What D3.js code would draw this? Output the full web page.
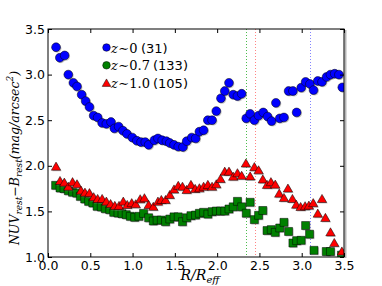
<!DOCTYPE html>
<html>
<head>
<meta charset="utf-8">
<script src="https://cdn.jsdelivr.net/npm/d3@7"></script>
<style>
  body { margin: 0; background: #fff; }
  svg { display: block; }
  .tick text { font-family: "DejaVu Sans", sans-serif; font-size: 12.5px; fill: #000; }
  .tick line { stroke: #000; }
</style>
</head>
<body>
<div id="chart"></div>
<script>
// z~0 sample (blue circles)
const blueR = [0.095,0.14,0.197,0.24,0.30,0.343,0.398,0.445,0.49,0.54,0.587,0.64,0.69,0.745,0.785,0.835,0.886,0.934,0.997,1.05,1.10,1.15,1.19,1.257,1.30,1.35,1.40,1.44,1.49,1.54,1.596,1.64,1.70,1.746,1.79,1.84,1.89,1.94,1.99,2.045,2.09,2.14,2.19,2.24,2.29,2.344,2.39,2.44,2.49,2.545,2.597,2.644,2.695,2.74,2.79,2.845,2.896,2.94,2.994,3.046,3.097,3.14,3.19,3.24,3.294,3.34,3.39,3.44,3.48];
const blueV = [3.30,3.185,3.21,3.00,2.91,2.87,2.78,2.71,2.645,2.55,2.53,2.47,2.46,2.48,2.41,2.43,2.385,2.35,2.31,2.275,2.26,2.26,2.23,2.28,2.30,2.28,2.27,2.25,2.23,2.21,2.206,2.27,2.31,2.30,2.374,2.39,2.50,2.50,2.60,2.74,2.82,2.91,2.78,2.765,2.79,2.52,2.57,2.50,2.55,2.585,2.54,2.49,2.69,2.52,2.53,2.82,2.82,2.585,2.857,2.92,2.897,2.83,2.93,2.92,2.974,3.00,3.01,3.00,2.86];

// z~0.7 sample (green squares)
const greenR = [0.09,0.142,0.189,0.24,0.29,0.34,0.382,0.434,0.48,0.53,0.58,0.63,0.677,0.73,0.777,0.827,0.875,0.925,0.973,1.025,1.075,1.13,1.19,1.245,1.29,1.34,1.39,1.44,1.49,1.54,1.59,1.64,1.69,1.745,1.79,1.84,1.89,1.94,1.99,2.04,2.09,2.14,2.19,2.24,2.29,2.344,2.39,2.44,2.49,2.54,2.59,2.64,2.687,2.74,2.79,2.845,2.896,2.94,2.994,3.046,3.093,3.145,3.29,3.34,3.47];
const greenV = [1.786,1.757,1.75,1.727,1.71,1.70,1.665,1.636,1.61,1.592,1.556,1.548,1.53,1.519,1.49,1.482,1.475,1.464,1.446,1.435,1.446,1.478,1.43,1.395,1.405,1.405,1.387,1.416,1.44,1.44,1.387,1.43,1.453,1.46,1.479,1.49,1.47,1.497,1.504,1.504,1.504,1.526,1.55,1.61,1.55,1.48,1.60,1.41,1.457,1.51,1.29,1.30,1.27,1.318,1.38,1.28,1.153,1.179,1.183,1.345,1.25,1.073,1.06,1.06,1.02];

// z~1.0 sample (red triangles)
const redR = [0.095,0.142,0.193,0.24,0.29,0.343,0.39,0.437,0.49,0.54,0.587,0.64,0.69,0.74,0.79,0.84,0.89,0.937,0.99,1.037,1.09,1.14,1.19,1.245,1.30,1.34,1.39,1.44,1.49,1.54,1.59,1.64,1.69,1.74,1.79,1.84,1.89,1.94,1.99,2.04,2.09,2.14,2.19,2.24,2.29,2.34,2.39,2.44,2.49,2.54,2.59,2.636,2.687,2.734,2.79,2.837,2.89,2.935,2.987,3.04,3.085,3.136,3.19,3.24,3.28,3.34,3.385,3.475];
const redV = [1.99,1.833,1.815,1.77,1.82,1.797,1.727,1.705,1.70,1.655,1.636,1.636,1.607,1.58,1.56,1.56,1.607,1.57,1.59,1.578,1.633,1.644,1.57,1.55,1.607,1.625,1.625,1.68,1.74,1.78,1.77,1.735,1.79,1.746,1.753,1.77,1.79,1.77,1.797,1.855,1.935,1.935,1.88,1.918,1.89,2.025,1.883,1.985,1.95,1.85,1.79,1.82,1.793,1.694,1.647,1.75,1.636,1.573,1.548,1.556,1.563,1.59,1.475,1.636,1.428,1.27,1.153,1.06];

// vertical marker lines (R/Reff), one per sample
const lineR = [2.345, 2.444, 3.094];
const lineColors = ["#00a000", "#ff5050", "#5050ff"];

const xTicks = [0,0.5,1.0,1.5,2.0,2.5,3.0,3.5];
const yTicks = [1.0,1.5,2.0,2.5,3.0,3.5];

const legendZ = ["0", "0.7", "1.0"];
const legendN = ["(31)", "(133)", "(105)"];
const legendNx = [141, 153, 153];
const colors = ["#0000ff", "#008000", "#ff0000"];

const width = 382, height = 286;
const margin = {top: 29, right: 38, bottom: 29, left: 48};
const plotW = width - margin.left - margin.right;
const plotH = height - margin.top - margin.bottom;

const svg = d3.select("#chart").append("svg")
    .attr("width", width)
    .attr("height", height);

const x = d3.scaleLinear().domain([0, 3.5]).range([margin.left, margin.left + plotW]);
const y = d3.scaleLinear().domain([1, 3.5]).range([margin.top + plotH, margin.top]);

svg.append("clipPath").attr("id", "clip")
  .append("rect")
    .attr("x", margin.left).attr("y", margin.top)
    .attr("width", plotW).attr("height", plotH);

// shadow band on right side of frame
svg.append("line")
    .attr("x1", margin.left + plotW + 1.5).attr("x2", margin.left + plotW + 1.5)
    .attr("y1", margin.top + 1).attr("y2", margin.top + plotH + 1)
    .attr("stroke", "#b4b4b4").attr("stroke-width", 2);

const plot = svg.append("g").attr("clip-path", "url(#clip)");

plot.selectAll("line.vref")
    .data(lineR)
    .enter().append("line")
    .attr("class", "vref")
    .attr("x1", d => Math.round(x(d)) + 0.5).attr("x2", d => Math.round(x(d)) + 0.5)
    .attr("y1", margin.top).attr("y2", margin.top + plotH)
    .attr("stroke", (d, i) => lineColors[i])
    .attr("stroke-opacity", 0.7)
    .attr("stroke-width", 1)
    .attr("stroke-dasharray", "1,2");

const blue = d3.zip(blueR, blueV);
const green = d3.zip(greenR, greenV);
const red = d3.zip(redR, redV);

const circle = d3.symbol().type(d3.symbolCircle).size(Math.PI * 4.4 * 4.4);
const square = d3.symbol().type(d3.symbolSquare).size(8 * 8);
const tri = d3.symbol().type(d3.symbolTriangle).size(38);

function drawSeries(data, sym, fill, dy) {
  const g = plot.append("g");
  // soft shadow
  g.selectAll("path.sh")
      .data(data)
      .enter().append("path")
      .attr("class", "sh")
      .attr("d", sym)
      .attr("transform", d => "translate(" + (x(d[0]) + 1) + "," + (y(d[1]) + 1 + dy) + ")")
      .attr("fill", "#888")
      .attr("fill-opacity", 0.45);
  g.selectAll("path.pt")
      .data(data)
      .enter().append("path")
      .attr("class", "pt")
      .attr("d", sym)
      .attr("transform", d => "translate(" + x(d[0]) + "," + (y(d[1]) + dy) + ")")
      .attr("fill", fill)
      .attr("stroke", "#000")
      .attr("stroke-width", 0.5);
}

drawSeries(blue, circle, colors[0], 0);
drawSeries(green, square, colors[1], 0);
drawSeries(red, tri, colors[2], 0.8);

// axes with inward ticks
const xAxis = d3.axisBottom(x).tickValues(xTicks).tickFormat(d3.format(".1f"))
    .tickSizeInner(-4).tickSizeOuter(0).tickPadding(4);
svg.append("g")
    .attr("transform", "translate(0," + (margin.top + plotH) + ")")
    .call(xAxis);

const yAxis = d3.axisLeft(y).tickValues(yTicks).tickFormat(d3.format(".1f"))
    .tickSizeInner(-4).tickSizeOuter(0).tickPadding(3);
svg.append("g")
    .attr("transform", "translate(" + margin.left + ",0)")
    .call(yAxis);

svg.append("g")
    .attr("transform", "translate(0," + margin.top + ")")
    .call(d3.axisTop(x).tickValues(xTicks).tickFormat("").tickSizeInner(-4).tickSizeOuter(0));
svg.append("g")
    .attr("transform", "translate(" + (margin.left + plotW) + ",0)")
    .call(d3.axisRight(y).tickValues(yTicks).tickFormat("").tickSizeInner(-4).tickSizeOuter(0));

svg.selectAll(".domain").remove();

svg.append("rect")
    .attr("x", margin.left).attr("y", margin.top)
    .attr("width", plotW).attr("height", plotH)
    .attr("fill", "none").attr("stroke", "#000").attr("stroke-width", 1);

// legend (no frame)
const leg = svg.append("g");
const legSyms = [
  d3.symbol().type(d3.symbolCircle).size(Math.PI * 3.8 * 3.8),
  d3.symbol().type(d3.symbolCircle).size(Math.PI * 3.8 * 3.8),
  d3.symbol().type(d3.symbolTriangle).size(32)
];
legendZ.forEach((z, i) => {
  const cy = 47.5 + i * 17.8;
  leg.append("path")
      .attr("d", legSyms[i])
      .attr("transform", "translate(106.5," + (cy + (i === 2 ? 0.8 : 0)) + ")")
      .attr("fill", colors[i])
      .attr("stroke", "#000").attr("stroke-width", 0.5);
  const t = leg.append("text")
      .attr("x", 111).attr("y", cy + 5)
      .attr("font-size", 13);
  t.append("tspan").attr("font-family", "DejaVu Serif").attr("font-style", "italic").text("z");
  t.append("tspan").attr("font-family", "DejaVu Serif").attr("dx", 0.5).text("\u223C");
  t.append("tspan").attr("font-family", "DejaVu Serif").text(z);
  t.append("tspan").attr("font-family", "DejaVu Sans").attr("x", legendNx[i]).text(legendN[i]);
});

// x label
const xl = svg.append("text")
    .attr("x", 200).attr("y", 280)
    .attr("text-anchor", "middle")
    .attr("font-family", "DejaVu Serif").attr("font-style", "italic")
    .attr("font-size", 14);
xl.append("tspan").text("R/R");
xl.append("tspan").attr("dy", 3).attr("font-size", 10).text("eff");

// y label
const yl = svg.append("text")
    .attr("transform", "translate(19,158) rotate(-90)")
    .attr("text-anchor", "middle")
    .attr("font-family", "DejaVu Serif").attr("font-style", "italic")
    .attr("font-size", 12.5);
yl.append("tspan").text("NUV");
yl.append("tspan").attr("dy", 3).attr("font-size", 9).text("rest");
yl.append("tspan").attr("dy", -3).attr("font-style", "normal").text("\u2212");
yl.append("tspan").text("B");
yl.append("tspan").attr("dy", 3).attr("font-size", 9).text("rest");
yl.append("tspan").attr("dy", -3).text("(mag/arcsec");
yl.append("tspan").attr("dy", -6).attr("font-size", 9).text("2");
yl.append("tspan").attr("dy", 6).text(")");
</script>
</body>
</html>
